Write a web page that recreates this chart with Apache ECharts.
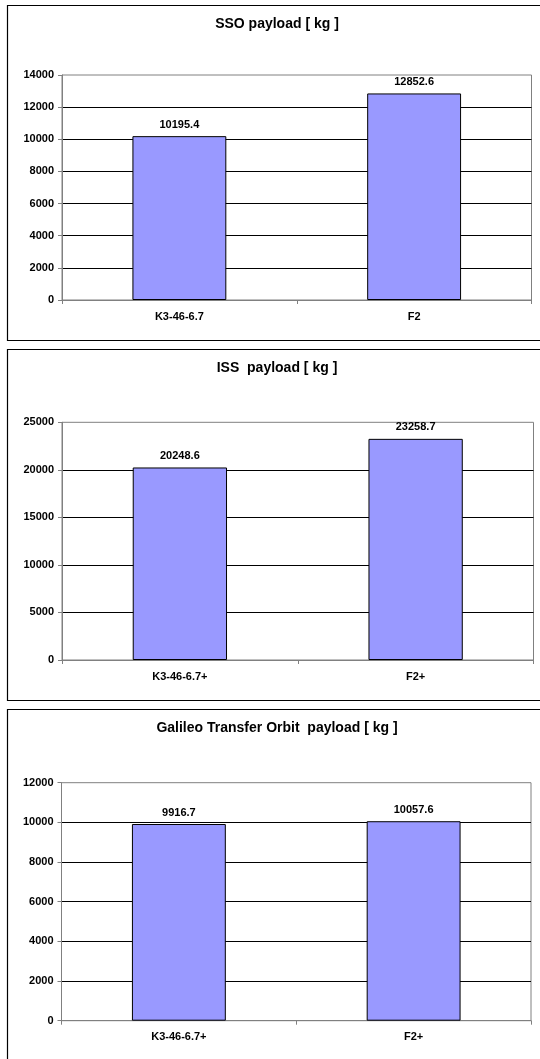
<!DOCTYPE html>
<html>
<head>
<meta charset="utf-8">
<script src="https://cdn.jsdelivr.net/npm/echarts@6/dist/echarts.min.js"></script>
<style>
  html, body { margin: 0; padding: 0; background: #fff; }
  #chart { width: 540px; height: 1059px; }
</style>
</head>
<body>
<div id="chart"></div>
<script>
// Payload per launcher configuration, one panel per target orbit
const ssoTitle = 'SSO payload [ kg ]';
const ssoCategories = ['K3-46-6.7', 'F2'];
const ssoPayload = [10195.4, 12852.6];
const ssoTicks = [0, 2000, 4000, 6000, 8000, 10000, 12000, 14000];

const issTitle = 'ISS  payload [ kg ]';
const issCategories = ['K3-46-6.7+', 'F2+'];
const issPayload = [20248.6, 23258.7];
const issTicks = [0, 5000, 10000, 15000, 20000, 25000];

const gtoTitle = 'Galileo Transfer Orbit  payload [ kg ]';
const gtoCategories = ['K3-46-6.7+', 'F2+'];
const gtoPayload = [9916.7, 10057.6];
const gtoTicks = [0, 2000, 4000, 6000, 8000, 10000, 12000];

const FONT = '"Liberation Sans", Arial, sans-serif';

const panels = [
  { title: ssoTitle, cats: ssoCategories, vals: ssoPayload, ticks: ssoTicks,
    frame: { y: 5.5, h: 335 }, titleTop: 17,
    grid: { left: 62, top: 75, width: 469.5, height: 225 } },
  { title: issTitle, cats: issCategories, vals: issPayload, ticks: issTicks,
    frame: { y: 349.5, h: 351 }, titleTop: 361,
    grid: { left: 62, top: 422.3, width: 471.5, height: 237.7 } },
  { title: gtoTitle, cats: gtoCategories, vals: gtoPayload, ticks: gtoTicks,
    frame: { y: 709.5, h: 400 }, titleTop: 721,
    grid: { left: 61.5, top: 782.7, width: 469.5, height: 238 } }
];

const option = {
  animation: false,
  backgroundColor: '#ffffff',
  textStyle: { fontFamily: FONT },
  graphic: panels.map(p => ({
    type: 'rect',
    z: -10,
    shape: { x: 7.5, y: p.frame.y, width: 600, height: p.frame.h },
    style: { fill: '#ffffff', stroke: '#000000', lineWidth: 1.2 },
    silent: true
  })),
  title: panels.map(p => ({
    text: p.title,
    left: 277,
    textAlign: 'center',
    top: p.titleTop,
    padding: 0,
    textStyle: { fontFamily: FONT, fontSize: 14, fontWeight: 'bold', color: '#000' }
  })),
  grid: panels.map(p => Object.assign({
    show: true,
    borderColor: '#808080',
    borderWidth: 1,
    backgroundColor: 'transparent',
    containLabel: false
  }, p.grid)),
  xAxis: panels.map((p, i) => ({
    type: 'category',
    gridIndex: i,
    data: p.cats,
    axisLine: { lineStyle: { color: '#808080', width: 1 } },
    axisTick: { show: true, length: 4, lineStyle: { color: '#808080' } },
    axisLabel: { margin: 11, fontSize: 11, fontWeight: 'bold', color: '#000', fontFamily: FONT },
    splitLine: { show: false }
  })),
  yAxis: panels.map((p, i) => {
    const t = p.ticks;
    return {
      type: 'value',
      gridIndex: i,
      min: t[0],
      max: t[t.length - 1],
      interval: t[1] - t[0],
      axisLine: { show: true, lineStyle: { color: '#808080', width: 1 } },
      axisTick: { show: true, length: 4, lineStyle: { color: '#808080' } },
      axisLabel: {
        margin: 8, fontSize: 11, fontWeight: 'bold', color: '#000', fontFamily: FONT,
        formatter: v => String(v)
      },
      splitLine: {
        show: true,
        showMinLine: false,
        showMaxLine: false,
        lineStyle: { color: '#000', width: 1 }
      }
    };
  }),
  series: panels.map((p, i) => ({
    type: 'bar',
    xAxisIndex: i,
    yAxisIndex: i,
    data: p.vals,
    barWidth: '40%',
    itemStyle: { color: '#9999FF', borderColor: '#000', borderWidth: 1 },
    label: {
      show: true,
      position: 'top',
      distance: 6,
      fontSize: 11,
      fontWeight: 'bold',
      color: '#000',
      fontFamily: FONT,
      formatter: d => Number(d.value).toFixed(1)
    }
  }))
};

const chart = echarts.init(document.getElementById('chart'), null, { renderer: 'canvas' });
chart.setOption(option);
</script>
</body>
</html>
